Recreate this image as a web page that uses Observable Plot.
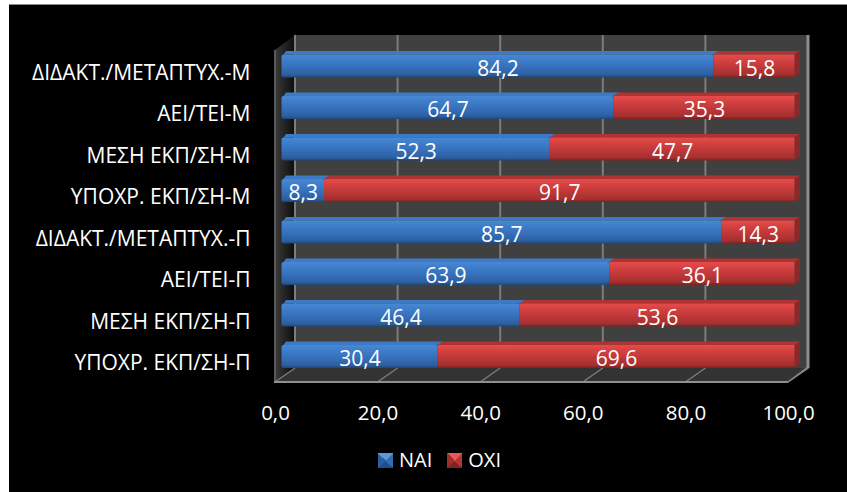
<!DOCTYPE html>
<html><head><meta charset="utf-8">
<script src="https://cdn.jsdelivr.net/npm/d3@7"></script>
<script src="https://cdn.jsdelivr.net/npm/@observablehq/plot@0.6"></script>
<style>
html,body{margin:0;padding:0;background:#fff;overflow:hidden;width:847px;height:492px}
#box{position:absolute;left:9px;top:4px;width:838px;height:487px;background:#000;border-top:1px solid #8a8a8a;font-family:"Open Sans",sans-serif;color:#fff}
#box svg{display:block;background:transparent}
#legend{position:absolute;left:369px;top:445px;height:20px;display:flex;align-items:center;font-size:20px;line-height:20px}
.sw{width:15px;height:15px;margin-right:6px}
.sw.a{background:conic-gradient(from 45deg,#2f6db4 0 25%,#1f4f8a 25% 50%,#28609f 50% 75%,#5e97d8 75% 100%)}
.sw.b{background:conic-gradient(from 45deg,#b53434 0 25%,#7e2424 25% 50%,#a12d2d 50% 75%,#e25a5a 75% 100%)}
.lab{margin-right:15px}
</style></head><body>
<div id="box"><div id="chart"></div><div id="legend"><span class="sw a"></span><span class="lab">ΝΑΙ</span><span class="sw b"></span><span class="lab">ΟΧΙ</span></div></div>
<script>
const categories = ["ΔΙΔΑΚΤ./ΜΕΤΑΠΤΥΧ.-Μ","ΑΕΙ/ΤΕΙ-Μ","ΜΕΣΗ ΕΚΠ/ΣΗ-Μ","ΥΠΟΧΡ. ΕΚΠ/ΣΗ-Μ","ΔΙΔΑΚΤ./ΜΕΤΑΠΤΥΧ.-Π","ΑΕΙ/ΤΕΙ-Π","ΜΕΣΗ ΕΚΠ/ΣΗ-Π","ΥΠΟΧΡ. ΕΚΠ/ΣΗ-Π"];
const nai = [84.2,64.7,52.3,8.3,85.7,63.9,46.4,30.4];
const oxi = [15.8,35.3,47.7,91.7,14.3,36.1,53.6,69.6];
const xTicks = [0,20,40,60,80,100];
const rows = categories.map((c,i)=>({c,nai:nai[i],oxi:oxi[i]}));
const comma = v => v.toFixed(1).replace(".",",");
const SVGNS = "http://www.w3.org/2000/svg";
const BACK = [20,-14], BAR = [6.5,-4.75], BARD = [5.5,-3.5];

function poly(g,pts,fill,stroke,sw){
  const p=document.createElementNS(SVGNS,"polygon");
  p.setAttribute("points",pts.map(d=>d.join(",")).join(" "));
  p.setAttribute("fill",fill);
  if(stroke){p.setAttribute("stroke",stroke);p.setAttribute("stroke-width",sw||1);}
  g.appendChild(p);
}
function group(){return document.createElementNS(SVGNS,"g");}
function defs(){
  const wrap=document.createElementNS(SVGNS,"defs");
  const mk=(id,stops,x2,y2)=>{
    const g=document.createElementNS(SVGNS,"linearGradient");
    g.setAttribute("id",id);g.setAttribute("x1",0);g.setAttribute("y1",0);g.setAttribute("x2",x2);g.setAttribute("y2",y2);
    stops.forEach(([o,c])=>{const s=document.createElementNS(SVGNS,"stop");s.setAttribute("offset",o);s.setAttribute("stop-color",c);g.appendChild(s);});
    wrap.appendChild(g);
  };
  mk("gBlue",[[0,"#4a87d3"],[.2,"#3f7fcc"],[.55,"#3670ba"],[.88,"#2c5f9f"],[1,"#1f4679"]],0,1);
  mk("gRed",[[0,"#e84b4b"],[.2,"#d84343"],[.55,"#bf3838"],[.88,"#a52f2f"],[1,"#7a2222"]],0,1);
  mk("gLeft",[[0,"#3a3a3a"],[1,"#0c0c0c"]],1,0);
  return wrap;
}
function chrome(_i,{x,y}){
  const g=group();
  const [x0,x1]=[x(0),x(100)];
  const yb=y.range()[1], yt=y.range()[0];
  poly(g,[[x0+BACK[0],yt-1+BACK[1]],[x1+BACK[0],yt-1+BACK[1]],[x1+BACK[0],yb+BACK[1]],[x0+BACK[0],yb+BACK[1]]],"#404040");
  poly(g,[[x0,yt],[x0+BACK[0],yt-1+BACK[1]],[x0+BACK[0],yb+BACK[1]],[x0,yb]],"url(#gLeft)");
  poly(g,[[x0,yb],[x0+BACK[0],yb+BACK[1]],[x1+BACK[0],yb+BACK[1]],[x1,yb]],"#333333");
  poly(g,[[x1,yb],[x1+BACK[0],yb+BACK[1]],[x1+BACK[0],yb+BACK[1]-1],[x1,yb]],"#888","#888",1.5);
  xTicks.forEach(t=>{
    const xt=x(t);
    poly(g,[[xt,yb],[xt+BACK[0],yb+BACK[1]]],"none","#808080",1.2);
  });
  return g;
}
function edges(_i,{x,y}){
  const g=group();
  const [x0,x1]=[x(0),x(100)];
  const yb=y.range()[1], yt=y.range()[0];
  poly(g,[[x0,yt],[x0,yb]],"none","#5a5a5a",2);
  poly(g,[[x0-1,yb],[x1,yb]],"none","#8f8f8f",2.2);
  return g;
}
function barDepth(_i,{x,y}){
  const g=group();
  const h=y.bandwidth();
  rows.forEach(d=>{
    const t=y(d.c)+BAR[1], X=v=>x(v)+BAR[0], xm=X(d.nai), xe=X(100), xs=X(0);
    poly(g,[[xs+2,t],[xs+BARD[0]-1,t+BARD[1]],[xm+BARD[0],t+BARD[1]],[xm,t]],"#3c7ac6");
    poly(g,[[xm,t],[xm+BARD[0],t+BARD[1]],[xe+BARD[0],t+BARD[1]],[xe,t]],"#ae3333");
    poly(g,[[xe,t],[xe+BARD[0],t+BARD[1]],[xe+BARD[0],t+h+BARD[1]-1],[xe,t+h]],"#8c2828");
  });
  return g;
}
const plot = Plot.plot({
  width:838, height:440,
  marginLeft:266, marginRight:59, marginTop:45, marginBottom:63,
  style:{background:"transparent",color:"#fff",fontFamily:"'Open Sans',sans-serif",overflow:"visible"},
  x:{domain:[0,100],range:[266,779],label:null},
  y:{domain:categories,range:[45,377],paddingInner:0.447,paddingOuter:0.2235,align:0.5,round:false,label:null},
  marks:[
    defs,
    chrome,
    (i,{x,y})=>{
      const g=group(), yb=y.range()[1], yt=y.range()[0];
      xTicks.forEach(t=>poly(g,[[x(t)+BACK[0],yt-1+BACK[1]],[x(t)+BACK[0],yb+BACK[1]]],"none",t===100?"#8f8f8f":"#7c7c7c",t===100?3:2));
      return g;
    },
    edges,
    Plot.axisX({ticks:xTicks,tickFormat:comma,tickSize:0,tickPadding:23,fontSize:20.5,fill:"#fff"}),
    Plot.axisY({tickSize:0,tickPadding:25,fontSize:21,dy:2,fill:"#fff"}),
    barDepth,
    Plot.barX(rows,{x1:()=>0,x2:"nai",y:"c",fill:"url(#gBlue)",rx:2,dx:BAR[0],dy:BAR[1]}),
    Plot.barX(rows,{x1:"nai",x2:d=>d.nai+d.oxi,y:"c",fill:"url(#gRed)",dx:BAR[0],dy:BAR[1]}),
    Plot.text(rows,{x:d=>d.nai/2,y:"c",text:d=>comma(d.nai),fill:"#fff",fontSize:21,fontWeight:500,dx:BAR[0],dy:BAR[1]+2.5}),
    Plot.text(rows,{x:d=>d.nai+d.oxi/2,y:"c",text:d=>comma(d.oxi),fill:"#fff",fontSize:21,fontWeight:500,dx:BAR[0],dy:BAR[1]+2.5})
  ]
});
document.getElementById("chart").appendChild(plot);
</script>
</body></html>
